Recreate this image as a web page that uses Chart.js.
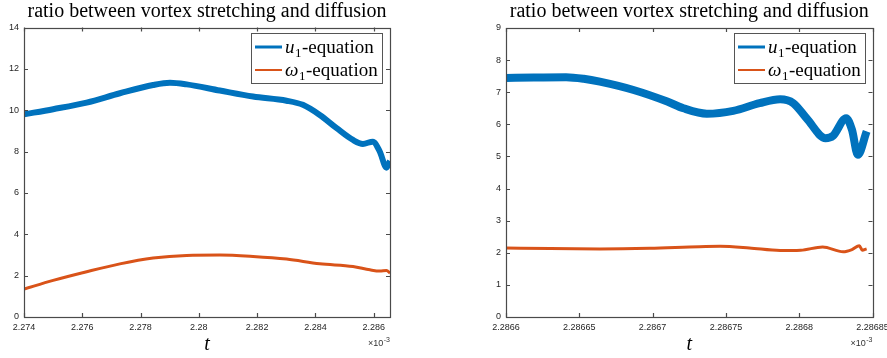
<!DOCTYPE html>
<html><head><meta charset="utf-8">
<script src="https://cdn.jsdelivr.net/npm/chart.js@4.4.1/dist/chart.umd.min.js"></script>
<style>
html,body{margin:0;padding:0;background:#fff;width:887px;height:358px;overflow:hidden}
canvas{position:absolute;top:0}
</style></head>
<body>
<canvas id="cl" width="443" height="358" style="left:0"></canvas>
<canvas id="cr" width="444" height="358" style="left:443px"></canvas>
<script>
// ---------- data ----------
const chartTitle = 'ratio between vortex stretching and diffusion';
const seriesNames = ['u\u2081-equation', '\u03c9\u2081-equation'];
const xAxisLabel = 't';
const xMultiplier = ['\u00d710', '-3'];

// left panel (t in units of 1e-3)
const tLeftU = [2.2740, 2.2750, 2.27615, 2.27729, 2.27843, 2.27901, 2.27958, 2.28072, 2.28186, 2.28301, 2.28357, 2.28415, 2.28473, 2.28529, 2.28563, 2.28597, 2.28621, 2.28644, 2.28656];
const uLeft  = [9.80, 10.05, 10.37, 10.82, 11.22, 11.33, 11.25, 10.95, 10.66, 10.46, 10.26, 9.77, 9.13, 8.56, 8.37, 8.48, 8.00, 7.22, 7.55];
const tLeftW = [2.2740, 2.2750, 2.27615, 2.27729, 2.27843, 2.27958, 2.28072, 2.28186, 2.28301, 2.28415, 2.28529, 2.28587, 2.28621, 2.28644, 2.28656];
const wLeft  = [1.35, 1.77, 2.19, 2.57, 2.85, 2.98, 3.00, 2.93, 2.80, 2.57, 2.44, 2.28, 2.22, 2.25, 2.12];
const xTicksLeft = [2.274, 2.276, 2.278, 2.280, 2.282, 2.284, 2.286];
const xTickLabelsLeft = ['2.274', '2.276', '2.278', '2.28', '2.282', '2.284', '2.286'];
const yTicksLeft = [0, 2, 4, 6, 8, 10, 12, 14];
const xRangeLeft = [2.274, 2.28656];

// right panel
const tRightU = [2.28660, 2.286619, 2.286641, 2.286653, 2.286664, 2.286687, 2.286710, 2.286721, 2.286737, 2.286755, 2.286773, 2.286787, 2.286796, 2.286805, 2.286818, 2.286823, 2.286832, 2.286836, 2.286840, 2.286846];
const uRight  = [7.44, 7.46, 7.47, 7.42, 7.33, 7.07, 6.71, 6.50, 6.33, 6.42, 6.66, 6.78, 6.66, 6.19, 5.57, 5.64, 6.19, 5.83, 5.05, 5.78];
const tRightW = [2.28660, 2.286630, 2.286664, 2.286698, 2.286732, 2.286746, 2.286766, 2.286787, 2.286801, 2.286816, 2.286830, 2.286836, 2.286841, 2.286843, 2.286846];
const wRight  = [2.15, 2.13, 2.12, 2.14, 2.19, 2.20, 2.15, 2.07, 2.08, 2.18, 2.03, 2.10, 2.22, 2.08, 2.12];
const xTicksRight = [2.2866, 2.28665, 2.2867, 2.28675, 2.2868, 2.28685];
const xTickLabelsRight = ['2.2866', '2.28665', '2.2867', '2.28675', '2.2868', '2.28685'];
const yTicksRight = [0, 1, 2, 3, 4, 5, 6, 7, 8, 9];
const xRangeRight = [2.2866, 2.28685];

// ---------- styling ----------
const BLUE = '#0072BD', ORANGE = '#D95319';
const SERIF = '"Liberation Serif", "DejaVu Serif", serif';
const SANS = '"Liberation Sans", Arial, sans-serif';
const AX = '#4a4a4a';

function pts(ts, vs) { return ts.map((t, i) => ({ x: t, y: vs[i] })); }

function drawEntry(ctx, x, y, sym, rest) {
  ctx.textBaseline = 'alphabetic';
  ctx.textAlign = 'left';
  ctx.font = 'italic 19px ' + SERIF;
  ctx.fillText(sym, x, y);
  let w = ctx.measureText(sym).width;
  ctx.font = '13px ' + SERIF;
  ctx.fillText('1', x + w + 0.5, y + 4);
  w += ctx.measureText('1').width + 1;
  ctx.font = '19px ' + SERIF;
  ctx.fillText(rest, x + w, y);
  return w + ctx.measureText(rest).width;
}
function entryWidth(ctx, sym, rest) {
  ctx.font = 'italic 19px ' + SERIF; let w = ctx.measureText(sym).width;
  ctx.font = '13px ' + SERIF; w += ctx.measureText('1').width + 1;
  ctx.font = '19px ' + SERIF; w += ctx.measureText(rest).width;
  return w;
}

const decor = {
  id: 'decor',
  afterDraw(chart) {
    const ctx = chart.ctx, a = chart.chartArea;
    const xs = chart.scales.x, ys = chart.scales.y;
    ctx.save();
    // box
    ctx.strokeStyle = AX; ctx.lineWidth = 1.2;
    ctx.strokeRect(Math.round(a.left) + 0.5, Math.round(a.top) + 0.5, Math.round(a.right) - Math.round(a.left), Math.round(a.bottom) - Math.round(a.top));
    // inward ticks
    ctx.beginPath();
    xs.ticks.forEach(t => {
      const p = Math.round(xs.getPixelForValue(t.value)) + 0.5;
      ctx.moveTo(p, a.bottom); ctx.lineTo(p, a.bottom - 4);
      ctx.moveTo(p, a.top); ctx.lineTo(p, a.top + 4);
    });
    ys.ticks.forEach(t => {
      const p = Math.round(ys.getPixelForValue(t.value)) + 0.5;
      ctx.moveTo(a.left, p); ctx.lineTo(a.left + 4, p);
      ctx.moveTo(a.right, p); ctx.lineTo(a.right - 4, p);
    });
    ctx.stroke();
    // title
    const cx = (a.left + a.right) / 2;
    ctx.fillStyle = '#000';
    ctx.font = '20px ' + SERIF;
    ctx.textAlign = 'center'; ctx.textBaseline = 'alphabetic';
    ctx.fillText(chartTitle, cx, 17);
    // x label
    ctx.font = 'italic 20px ' + SERIF;
    ctx.fillText(xAxisLabel, cx, 350);
    // multiplier
    ctx.fillStyle = '#333';
    ctx.font = '7px ' + SANS;
    const supW = ctx.measureText(xMultiplier[1]).width;
    ctx.textAlign = 'left';
    ctx.fillText(xMultiplier[1], a.right - supW, 342);
    ctx.font = '9px ' + SANS;
    const mW = ctx.measureText(xMultiplier[0]).width;
    ctx.fillText(xMultiplier[0], a.right - supW - mW - 0.5, 346);
    // legend
    const syms = ['u', '\u03c9'];
    const rest = '-equation';
    const tw = Math.max(entryWidth(ctx, syms[0], rest), entryWidth(ctx, syms[1], rest));
    const bw = 34 + tw + 4, bh = 50;
    const bx = Math.round(a.right - 8 - bw), by = Math.round(a.top + 5);
    ctx.fillStyle = '#fff';
    ctx.fillRect(bx, by, bw, bh);
    ctx.strokeStyle = '#555'; ctx.lineWidth = 1;
    ctx.strokeRect(bx + 0.5, by + 0.5, Math.round(bw), bh);
    const cols = [BLUE, ORANGE];
    const rowY = [14, 37], baseY = [19.5, 42.5];
    for (let i = 0; i < 2; i++) {
      ctx.strokeStyle = cols[i]; ctx.lineWidth = i === 0 ? 3 : 2;
      ctx.beginPath(); ctx.moveTo(bx + 4, by + rowY[i]); ctx.lineTo(bx + 31, by + rowY[i]); ctx.stroke();
      ctx.fillStyle = '#000';
      drawEntry(ctx, bx + 34, by + baseY[i], syms[i], rest);
    }
    ctx.restore();
  }
};

function makeChart(id, d) {
  return new Chart(document.getElementById(id), {
    type: 'line',
    data: {
      datasets: [
        { label: seriesNames[0], data: pts(d.tU, d.u), borderColor: BLUE, borderWidth: d.blueW, pointRadius: 0, fill: false, cubicInterpolationMode: 'monotone' },
        { label: seriesNames[1], data: pts(d.tW, d.w), borderColor: ORANGE, borderWidth: 3, pointRadius: 0, fill: false, cubicInterpolationMode: 'monotone' }
      ]
    },
    options: {
      responsive: false, animation: false, devicePixelRatio: 1,
      layout: { padding: d.pad },
      plugins: { legend: { display: false }, title: { display: false }, tooltip: { enabled: false } },
      scales: {
        x: {
          type: 'linear', min: d.xr[0], max: d.xr[1],
          grid: { display: false, drawTicks: false }, border: { display: false },
          afterBuildTicks: s => { s.ticks = d.xt.map(v => ({ value: v })); },
          afterFit: s => { s.height = 41; s.paddingLeft = 0; s.paddingRight = 0; },
          ticks: { autoSkip: false, maxRotation: 0, padding: 5, color: '#262626', font: { family: SANS, size: 9 },
                   callback: (v, i) => d.xl[i] }
        },
        y: {
          type: 'linear', min: 0, max: d.yt[d.yt.length - 1],
          grid: { display: false, drawTicks: false }, border: { display: false },
          afterBuildTicks: s => { s.ticks = d.yt.map(v => ({ value: v })); },
          afterFit: s => { s.width = d.yw; s.paddingTop = 0; s.paddingBottom = 0; },
          ticks: { padding: 5, color: '#262626', font: { family: SANS, size: 9 }, callback: (v, i) => String(d.yt[i]) }
        }
      }
    },
    plugins: [decor]
  });
}

makeChart('cl', { tU: tLeftU, u: uLeft, tW: tLeftW, w: wLeft, xt: xTicksLeft, xl: xTickLabelsLeft, yt: yTicksLeft, xr: xRangeLeft,
  blueW: 6, yw: 24, pad: { left: 0, right: 53, top: 27.5, bottom: 0 } });
makeChart('cr', { tU: tRightU, u: uRight, tW: tRightW, w: wRight, xt: xTicksRight, xl: xTickLabelsRight, yt: yTicksRight, xr: xRangeRight,
  blueW: 8, yw: 63, pad: { left: 0, right: 14.5, top: 28, bottom: 0 } });
</script>
</body></html>
